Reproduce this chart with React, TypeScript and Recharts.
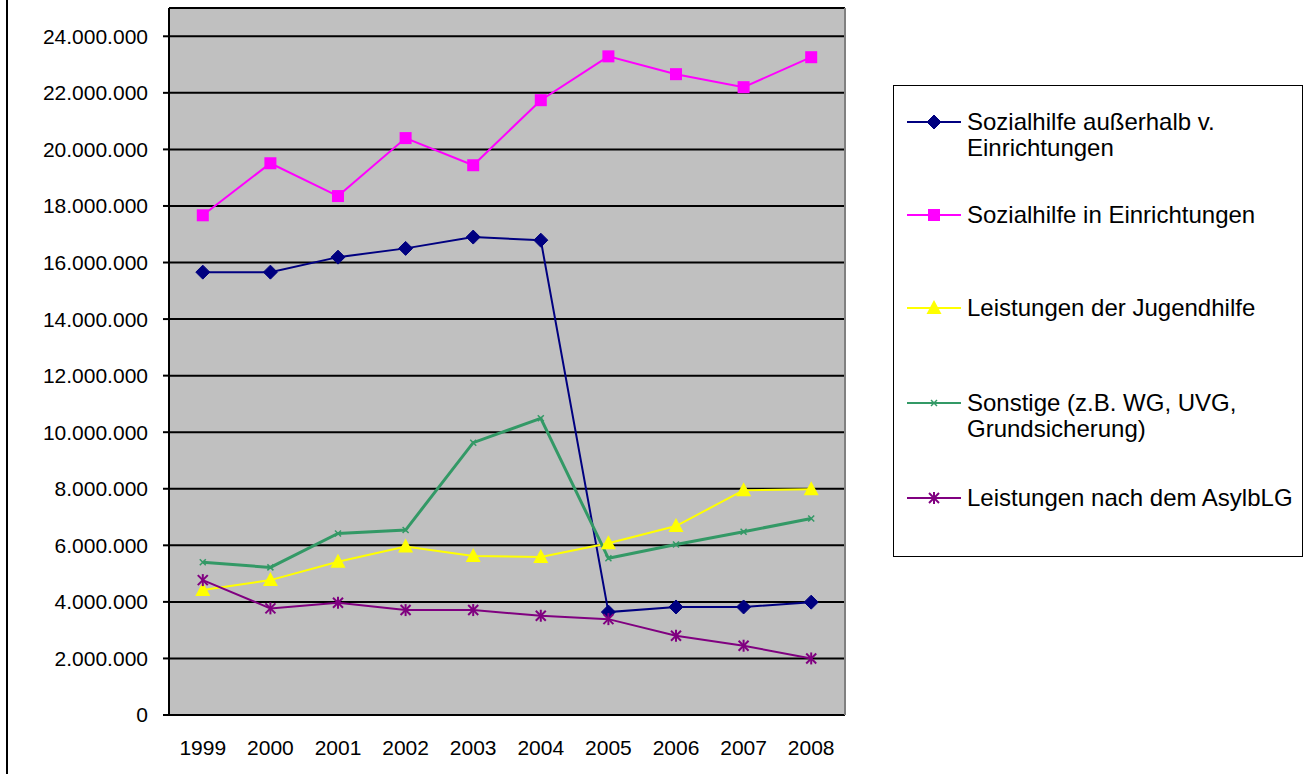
import React from 'react';
import { LineChart, Line, XAxis, YAxis, CartesianGrid, ReferenceLine, Legend } from 'recharts';

const years = ['1999', '2000', '2001', '2002', '2003', '2004', '2005', '2006', '2007', '2008'];
const sozAusserhalb = [15660000, 15660000, 16190000, 16500000, 16900000, 16790000, 3640000, 3820000, 3820000, 3990000];
const sozIn = [17670000, 19510000, 18350000, 20400000, 19440000, 21740000, 23290000, 22660000, 22200000, 23260000];
const jugendhilfe = [4420000, 4770000, 5420000, 5960000, 5620000, 5590000, 6070000, 6680000, 7950000, 7980000];
const sonstige = [5400000, 5220000, 6420000, 6540000, 9630000, 10490000, 5540000, 6030000, 6480000, 6950000];
const asyl = [4770000, 3770000, 3970000, 3710000, 3710000, 3510000, 3390000, 2800000, 2450000, 2000000];
const yTicks = [0, 2000000, 4000000, 6000000, 8000000, 10000000, 12000000, 14000000, 16000000, 18000000, 20000000, 22000000, 24000000];
const boundaryTicks = [-0.5, 0.5, 1.5, 2.5, 3.5, 4.5, 5.5, 6.5, 7.5, 8.5, 9.5];
const centerTicks = [0, 1, 2, 3, 4, 5, 6, 7, 8, 9];

const data = years.map((y, i) => ({
  i,
  year: y,
  a: sozAusserhalb[i],
  b: sozIn[i],
  c: jugendhilfe[i],
  d: sonstige[i],
  e: asyl[i],
}));

const FONT = '"Liberation Sans", Arial, sans-serif';

const fmt = (v: number) => String(Math.round(v)).replace(/\B(?=(\d{3})+(?!\d))/g, '.');

const Diamond = ({ cx, cy }: any) => (
  <polygon points={`${cx},${cy - 7} ${cx + 7},${cy} ${cx},${cy + 7} ${cx - 7},${cy}`} fill="#000080" stroke="#000080" />
);
const Square = ({ cx, cy }: any) => <rect x={cx - 6} y={cy - 6} width={12} height={12} fill="#FF00FF" />;
const Triangle = ({ cx, cy }: any) => (
  <polygon points={`${cx},${cy - 8} ${cx + 7.5},${cy + 6} ${cx - 7.5},${cy + 6}`} fill="#FFFF00" />
);
const SmallX = ({ cx, cy }: any) => (
  <g stroke="#339966" strokeWidth={1.5}>
    <line x1={cx - 3} y1={cy - 3} x2={cx + 3} y2={cy + 3} />
    <line x1={cx - 3} y1={cy + 3} x2={cx + 3} y2={cy - 3} />
  </g>
);
const Star = ({ cx, cy }: any) => (
  <g stroke="#800080" strokeWidth={2}>
    <line x1={cx - 5} y1={cy - 5} x2={cx + 5} y2={cy + 5} />
    <line x1={cx - 5} y1={cy + 5} x2={cx + 5} y2={cy - 5} />
    <line x1={cx} y1={cy - 6} x2={cx} y2={cy + 6} />
  </g>
);

const series = [
  { key: 'a', name: 'Sozialhilfe außerhalb v. Einrichtungen', lines: ['Sozialhilfe außerhalb v.', 'Einrichtungen'], color: '#000080', width: 2, Shape: Diamond },
  { key: 'b', name: 'Sozialhilfe in Einrichtungen', lines: ['Sozialhilfe in Einrichtungen'], color: '#FF00FF', width: 2, Shape: Square },
  { key: 'c', name: 'Leistungen der Jugendhilfe', lines: ['Leistungen der Jugendhilfe'], color: '#FFFF00', width: 2, Shape: Triangle },
  { key: 'd', name: 'Sonstige (z.B. WG, UVG, Grundsicherung)', lines: ['Sonstige (z.B. WG, UVG,', 'Grundsicherung)'], color: '#339966', width: 3, Shape: SmallX },
  { key: 'e', name: 'Leistungen nach dem AsylbLG', lines: ['Leistungen nach dem AsylbLG'], color: '#800080', width: 2, Shape: Star },
];
const legendTops = [36, 129, 222, 317, 412];

const renderLegend = () => (
  <div style={{ position: 'relative', width: 410, height: 472, border: '1.5px solid #000', boxSizing: 'border-box', background: '#fff', fontFamily: FONT }}>
    {series.map((s, idx) => {
      const Shape = s.Shape;
      const top = legendTops[idx];
      return (
        <div key={s.key} style={{ position: 'absolute', left: 0, top: top - 13, width: 410 }}>
          <svg width={70} height={26} style={{ position: 'absolute', left: 0, top: 0 }}>
            <line x1={13} y1={13} x2={67} y2={13} stroke={s.color} strokeWidth={2} />
            <Shape cx={40} cy={13} />
          </svg>
          <div style={{ position: 'absolute', left: 73, top: 0, fontSize: 24, lineHeight: '26px', color: '#000', whiteSpace: 'nowrap' }}>
            {s.lines.map((l) => (
              <div key={l}>{l}</div>
            ))}
          </div>
        </div>
      );
    })}
  </div>
);

export default function App() {
  return (
    <div style={{ position: 'absolute', left: 0, top: 0, width: 1310, height: 774, background: '#fff', fontFamily: FONT }}>
      <div style={{ position: 'absolute', left: 6, top: 0, width: 2, height: 774, background: '#000' }} />
      <LineChart
        width={1310}
        height={774}
        data={data}
        margin={{ top: 8, right: 465, bottom: 0, left: 69 }}
        style={{ fontFamily: FONT }}
      >
        <CartesianGrid vertical={false} stroke="#000" strokeWidth={2} fill="#C0C0C0" fillOpacity={1} />
        <XAxis
          xAxisId={0}
          type="number"
          dataKey="i"
          domain={[-0.5, 9.5]}
          ticks={boundaryTicks}
          tick={false}
          tickSize={7}
          axisLine={{ stroke: '#000', strokeWidth: 2 }}
          tickLine={{ stroke: '#000', strokeWidth: 2 }}
          height={0}
        />
        <XAxis
          xAxisId="lab"
          type="number"
          dataKey="i"
          domain={[-0.5, 9.5]}
          ticks={centerTicks}
          tickFormatter={(v: number) => years[v]}
          axisLine={false}
          tickLine={false}
          tickSize={0}
          tickMargin={25}
          height={59}
          tick={{ fill: '#000', fontSize: 21, fontFamily: FONT }}
          interval={0}
        />
        <YAxis
          type="number"
          domain={[0, 25000000]}
          ticks={yTicks}
          tickFormatter={fmt}
          width={100}
          tickSize={6}
          tickMargin={15}
          axisLine={{ stroke: '#000', strokeWidth: 2 }}
          tickLine={{ stroke: '#000', strokeWidth: 2 }}
          tick={{ fill: '#000', fontSize: 21, fontFamily: FONT }}
          allowDataOverflow
          interval={0}
        />
        <ReferenceLine x={9.5} stroke="#808080" strokeWidth={2} />
        {series.map((s) => {
          const Shape = s.Shape;
          return (
            <Line
              key={s.key}
              dataKey={s.key}
              name={s.name}
              stroke={s.color}
              strokeWidth={s.width}
              isAnimationActive={false}
              dot={(p: any) => <Shape key={`${s.key}-${p.index}`} cx={p.cx} cy={p.cy} />}
              activeDot={false}
            />
          );
        })}
        <Legend
          layout="vertical"
          align="center"
          verticalAlign="middle"
          wrapperStyle={{ left: 893, top: 85, width: 410, height: 472 }}
          content={renderLegend}
        />
      </LineChart>
    </div>
  );
}
